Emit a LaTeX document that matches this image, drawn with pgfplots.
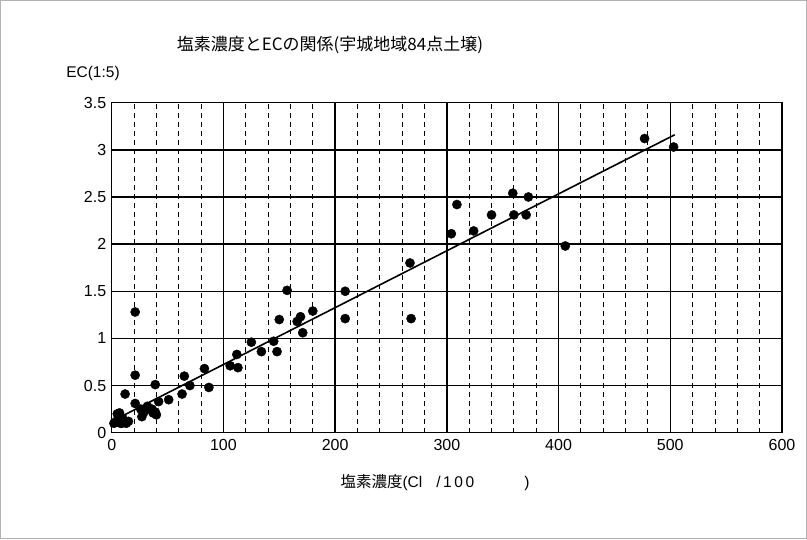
\documentclass[border=0pt]{standalone}
\usepackage{fontspec}
\setmainfont{Liberation Sans}
\newfontfamily\cjk{Noto Sans CJK JP}
\usepackage{pgfplots}
\pgfplotsset{compat=1.18}
\begin{document}
\begin{tikzpicture}[x=1pt,y=1pt]
\draw[gray!60, line width=0.8pt] (0.4,0.4) rectangle (806.6,538.6);
\begin{axis}[at={(111.7pt,106.3pt)}, anchor=south west, scale only axis,
  width=670.3pt, height=330pt,
  xmin=0, xmax=600, ymin=0, ymax=3.5,
  xtick={0,100,200,300,400,500,600},
  ytick={0,0.5,1,1.5,2,2.5,3,3.5},
  yticklabels={0,0.5,1,1.5,2,2.5,3,3.5},
  minor x tick num=4,
  grid=both,
  major grid style={black, line width=1.5pt},
  minor grid style={black, line width=0.9pt, dash pattern=on 5pt off 4pt},
  axis line style={black, line width=0.6pt},
  tick style={draw=none},
  /pgf/number format/assume math mode=true,
  tick label style={font=\fontsize{16}{18}\selectfont},
  xticklabel style={yshift=-3pt},
  yticklabel style={xshift=-2pt},
]
\addplot[only marks, mark=*, mark size=4.6pt, black] coordinates {
(2,0.10) (4,0.12) (5,0.20) (7,0.21) (8,0.10) (9,0.10) (10,0.15) (12,0.41)
(13,0.10) (15,0.12) (21,1.28) (21,0.61) (21,0.31) (26,0.25) (27,0.17) (29,0.22)
(32,0.28) (36,0.25) (37,0.21) (39,0.22) (40,0.19) (39,0.51) (42,0.33) (51,0.35)
(63,0.41) (65,0.60) (70,0.50) (83,0.68) (87,0.48) (106,0.71) (113,0.69) (112,0.83)
(125,0.96) (134,0.86) (145,0.97) (148,0.86) (150,1.20) (157,1.51) (166,1.18) (169,1.23)
(171,1.06) (180,1.29) (209,1.50) (209,1.21) (267,1.80) (268,1.21) (304,2.11) (309,2.42)
(324,2.14) (340,2.31) (359,2.54) (360,2.31) (371,2.31) (373,2.50) (406,1.98) (477,3.12)
(503,3.03)
};
\addplot[black, line width=1.6pt, no marks] coordinates {(0,0.12) (504,3.16)};
\end{axis}
\node[font=\cjk\fontsize{17}{19}\selectfont] at (330,494) {塩素濃度とECの関係(宇城地域84点土壌)};
\node[font=\fontsize{15.5}{17}\selectfont] at (93,466) {EC(1:5)};
\node[font=\fontsize{15.5}{17}\selectfont] at (435,56) {{\cjk 塩素濃度}(Cl\hspace{14pt}/\,1\,0\,0\hspace{50pt})};
\end{tikzpicture}
\end{document}
